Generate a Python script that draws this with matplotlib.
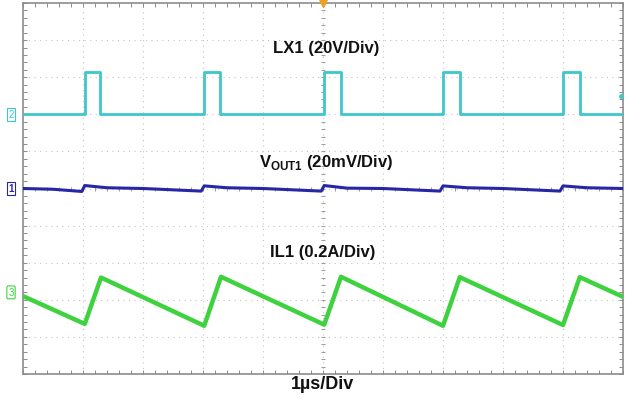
import numpy as np
import matplotlib.pyplot as plt

plt.rcParams['font.family'] = ['Liberation Sans', 'DejaVu Sans']
plt.rcParams['mathtext.fontset'] = 'custom'
plt.rcParams['mathtext.rm'] = 'Liberation Sans'
plt.rcParams['mathtext.bf'] = 'Liberation Sans:bold'

# time axis in us (1us/div), vertical axis in divisions (0 = bottom edge)
pulse_rise = [-3.97, -1.98, 0.02, 2.0, 4.0]
pulse_fall = [-3.72, -1.72, 0.30, 2.28, 4.28]
lx1_low = 7.0
lx1_high = 8.15

vout_t = [-5.0, -4.5, -4.02, -3.97, -3.6, -3.0, -2.03, -1.98, -1.6, -1.0,
          -0.03, 0.02, 0.4, 1.0, 1.95, 2.0, 2.4, 3.0, 3.95, 4.0, 4.4, 5.0]
vout_v = [5.0, 4.98, 4.92, 5.08, 5.02, 5.0, 4.93, 5.07, 5.02, 5.0,
          4.93, 5.08, 5.01, 5.0, 4.93, 5.07, 5.02, 5.0, 4.93, 5.07, 5.02, 5.0]

il1_t = [-5.0, -3.97, -3.70, -1.98, -1.70, 0.02, 0.30, 2.0, 2.28, 4.0, 4.28, 5.0]
il1_v = [2.10, 1.35, 2.60, 1.30, 2.62, 1.33, 2.62, 1.30, 2.61, 1.32, 2.61, 2.08]

# build LX1 square wave from edges
lx1_t = [-5.0]
lx1_v = [lx1_low]
for r, f in zip(pulse_rise, pulse_fall):
    lx1_t += [r, r, f, f]
    lx1_v += [lx1_low, lx1_high, lx1_high, lx1_low]
lx1_t.append(5.0)
lx1_v.append(lx1_low)

fig = plt.figure(figsize=(6.26, 4.02), dpi=100)
ax = fig.add_axes([23 / 626, 27 / 402, 600 / 626, 371 / 402])
ax.set_xlim(-5, 5)
ax.set_ylim(0, 10)

# dotted graticule
for gx in range(-4, 5):
    ax.axvline(gx, color='#c4c4c4', lw=0.8, ls=(0, (1, 4)), zorder=0)
for gy in range(1, 10):
    ax.axhline(gy, color='#c4c4c4', lw=0.8, ls=(0, (1, 4)), zorder=0)

# centre crosshair ticks
minor_x = np.arange(-5, 5.01, 0.2)
minor_y = np.arange(0, 10.01, 0.2)
ax.plot(minor_x, np.full(len(minor_x), 5.0), '|', color='#9a9a9a', ms=3, mew=0.7, zorder=1)
ax.plot(np.zeros(len(minor_y)), minor_y, '_', color='#9a9a9a', ms=3, mew=0.7, zorder=1)

ax.plot(lx1_t, lx1_v, color='#3cc8cc', lw=2.0, zorder=3)
ax.plot(vout_t, vout_v, color='#2626a6', lw=2.2, zorder=3)
ax.plot(il1_t, il1_v, color='#3fd23f', lw=3.2, zorder=3)

for s in ax.spines.values():
    s.set_color('#8c8c8c')
    s.set_linewidth(1.2)
ax.set_xticks(minor_x)
ax.set_yticks(minor_y)
ax.tick_params(direction='in', length=3, width=0.7, color='#8c8c8c',
               top=True, right=True, labelbottom=False, labelleft=False)

lbl = dict(ha='center', va='center', fontsize=12, fontweight='bold', color='#111111')
ax.text(0.05, 8.79, 'LX1 (20V/Div)', **lbl)
ax.text(0.05, 5.74, r'V$_{\mathbf{OUT1}}$ (20mV/Div)', **lbl)
ax.text(0.0, 3.29, 'IL1 (0.2A/Div)', **lbl)
fig.text(322 / 626, 1 - 385 / 402, '1µs/Div', ha='center', va='center',
         fontsize=13, fontweight='bold', color='#111111')

# channel markers on the left edge
ax.text(-5.2, lx1_low, '2', color='#3cc8cc', fontsize=7, ha='center', va='center',
        bbox=dict(boxstyle='square,pad=0.15', fc='white', ec='#3cc8cc', lw=0.8), clip_on=False)
ax.text(-5.2, 5.0, '1', color='#2626a6', fontsize=7, fontweight='bold', ha='center', va='center',
        bbox=dict(boxstyle='square,pad=0.15', fc='white', ec='#2626a6', lw=0.8), clip_on=False)
ax.text(-5.2, 2.2, '3', color='#3fd23f', fontsize=7, ha='center', va='center',
        bbox=dict(boxstyle='round,pad=0.15', fc='white', ec='#3fd23f', lw=0.8), clip_on=False)

# trigger position and level markers
ax.plot([0], [10.0], marker='v', color='#f0a020', ms=6, clip_on=False, zorder=5)
ax.plot([4.97], [7.5], marker='o', color='#3cc8cc', ms=2.5, clip_on=False, zorder=5)

fig.savefig('out.png', dpi=100)
